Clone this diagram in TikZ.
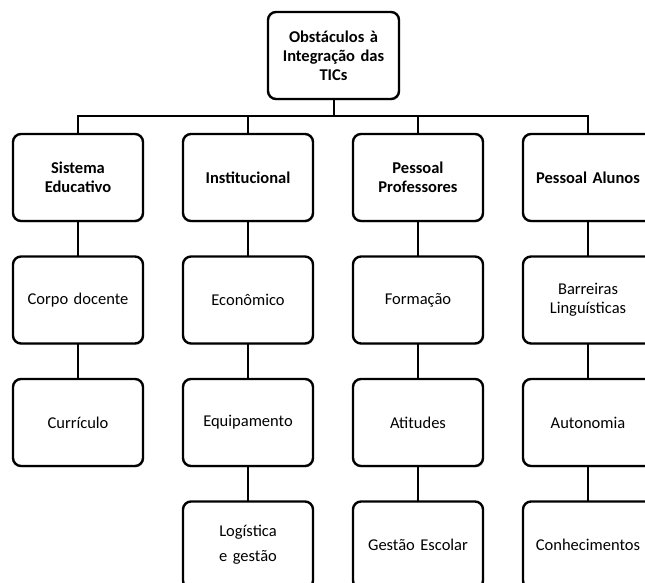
\documentclass[tikz,border=0pt]{standalone}
\usepackage{fontspec}
\setmainfont{Carlito}
\usetikzlibrary{positioning}
\usetikzlibrary{shadows}

\begin{document}
\begin{tikzpicture}[
        x = 1pt, y = -1pt,
        box/.style = {
            draw,
            fill = white,
            rounded corners = 8pt,
            line width = 2.4pt,
            minimum width = 130pt,
            minimum height = 87pt,
            text width = 124pt,
            align = center,
            inner sep = 0pt,
            outer sep = 0pt,
            font = \fontsize{16.5}{19}\selectfont,
            drop shadow = {opacity=0.25, shadow xshift=1pt, shadow yshift=-1.5pt}
        },
        head/.style = {box, font = \bfseries\fontsize{16.5}{19}\selectfont},
        link/.style = {line width = 2pt},
        node distance = {35.5pt and 40pt}
        ]
%
        \path[use as bounding box, clip] (0,0) rectangle (645,583);
%
        \node[head, minimum width = 131pt] (top) at (333.5,55.5) {Obstáculos à\\ Integração das\\ TICs};
%
        \node[head] (sis) at (78,177.5) {Sistema\\ Educativo};
        \node[head, right=of sis] (inst) {Institucional};
        \node[head, right=of inst] (prof) {Pessoal\\ Professores};
        \node[head, right=of prof] (alu) {Pessoal Alunos};
%
        \node[box, below=of sis] (corpo) {Corpo docente};
        \node[box, below=of corpo] (curric) {Currículo};
%
        \node[box, below=of inst] (econ) {Econômico};
        \node[box, below=of econ] (equip) {Equipamento};
        \node[box, below=of equip] (logist) {Logística\\[6pt] e gestão};
%
        \node[box, below=of prof] (form) {Formação};
        \node[box, below=of form] (atit) {Atitudes};
        \node[box, below=of atit] (gestao) {Gestão Escolar};
%
        \node[box, below=of alu] (barr) {Barreiras\\ Linguísticas};
        \node[box, below=of barr] (auton) {Autonomia};
        \node[box, below=of auton] (conhec) {Conhecimentos};
%
%
        \coordinate (bar) at (333.5,116);
        \draw[link] (top.south) -- (bar);
        \draw[link] (sis.north) |- (bar) -| (alu.north);
        \draw[link] (inst.north) -- (inst.north |- bar);
        \draw[link] (prof.north) -- (prof.north |- bar);
%
        \draw[link] (sis.south) -- (corpo.north);
        \draw[link] (corpo.south) -- (curric.north);
%
        \draw[link] (inst.south) -- (econ.north);
        \draw[link] (econ.south) -- (equip.north);
        \draw[link] (equip.south) -- (logist.north);
%
        \draw[link] (prof.south) -- (form.north);
        \draw[link] (form.south) -- (atit.north);
        \draw[link] (atit.south) -- (gestao.north);
%
        \draw[link] (alu.south) -- (barr.north);
        \draw[link] (barr.south) -- (auton.north);
        \draw[link] (auton.south) -- (conhec.north);

\end{tikzpicture}
\end{document}
